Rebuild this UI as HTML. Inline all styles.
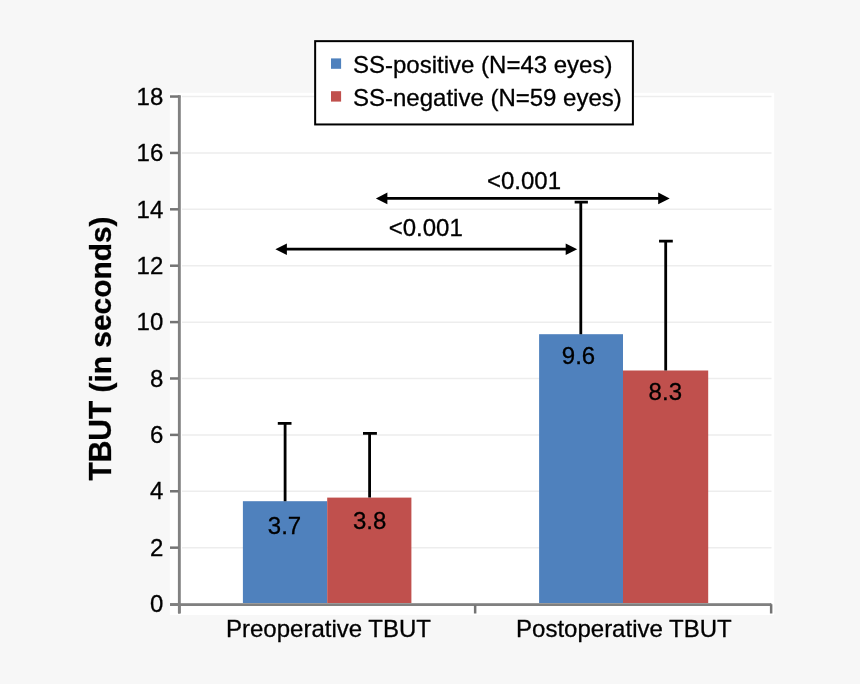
<!DOCTYPE html>
<html lang="en"><head><meta charset="utf-8"><title>TBUT chart</title>
<style>
html,body{margin:0;padding:0;background:#f7f7f7;}
body{width:860px;height:684px;overflow:hidden;}
svg{display:block;font-family:"Liberation Sans",sans-serif;font-size:24px;fill:#000;}
text{stroke:#000;stroke-width:0.3px;}
</style></head><body>
<svg width="860" height="684" viewBox="0 0 860 684">
<rect x="0" y="0" width="860" height="684" fill="#f7f7f7"/>
<rect x="169.8" y="92.8" width="604.4" height="522.1" fill="#fff"/>
<line x1="182" x2="771.5" y1="547.71" y2="547.71" stroke="#ededed" stroke-width="1.5"/>
<line x1="182" x2="771.5" y1="491.32" y2="491.32" stroke="#ededed" stroke-width="1.5"/>
<line x1="182" x2="771.5" y1="434.93" y2="434.93" stroke="#ededed" stroke-width="1.5"/>
<line x1="182" x2="771.5" y1="378.54" y2="378.54" stroke="#ededed" stroke-width="1.5"/>
<line x1="182" x2="771.5" y1="322.15" y2="322.15" stroke="#ededed" stroke-width="1.5"/>
<line x1="182" x2="771.5" y1="265.76" y2="265.76" stroke="#ededed" stroke-width="1.5"/>
<line x1="182" x2="771.5" y1="209.37" y2="209.37" stroke="#ededed" stroke-width="1.5"/>
<line x1="182" x2="771.5" y1="152.98" y2="152.98" stroke="#ededed" stroke-width="1.5"/>
<line x1="182" x2="771.5" y1="96.59" y2="96.59" stroke="#ededed" stroke-width="1.5"/>
<rect x="242.9" y="501.2" width="84.3" height="103.1" fill="#4f81bd"/>
<rect x="327.2" y="497.6" width="84.2" height="106.7" fill="#c0504d"/>
<rect x="539.1" y="334.2" width="83.9" height="270.1" fill="#4f81bd"/>
<rect x="623" y="370.5" width="85.2" height="233.8" fill="#c0504d"/>
<path d="M285.1 501.2V423.4M277.8 423.4H291.5" stroke="#000" stroke-width="2.8" fill="none"/>
<path d="M369.6 497.6V433.3M363.0 433.3H376.9" stroke="#000" stroke-width="2.8" fill="none"/>
<path d="M580.8 334.2V202.1M574.65 202.1H587.9" stroke="#000" stroke-width="2.8" fill="none"/>
<path d="M665.7 370.5V241.2M659.05 241.2H672.8" stroke="#000" stroke-width="2.8" fill="none"/>
<g stroke="#868686" stroke-width="3" fill="none">
<path d="M179.45 95.2V613.4"/>
<path d="M170 604.5H771.4"/>
<path d="M180.45 97.6V603" stroke="#9e9e9e" stroke-width="1"/>
<path d="M181 603.5H770" stroke="#9a9a9a" stroke-width="1"/>
<path d="M170 605H771.4" stroke="#808080" stroke-width="2"/>
<path d="M178.95 95.2V613.4" stroke="#828282" stroke-width="2"/>
</g>
<g stroke="#747474" stroke-width="2.5" fill="none">
<path d="M475.15 605V613.4M771.15 604.3V613.4"/>
<path d="M170 547.66H178.5"/>
<path d="M170 491.27H178.5"/>
<path d="M170 434.88H178.5"/>
<path d="M170 378.49H178.5"/>
<path d="M170 322.1H178.5"/>
<path d="M170 265.71H178.5"/>
<path d="M170 209.32H178.5"/>
<path d="M170 152.93H178.5"/>
<path d="M170 96.54H178.5"/>
</g>
<g text-anchor="end">
<text x="163.3" y="612.25">0</text>
<text x="163.3" y="555.86">2</text>
<text x="163.3" y="499.47">4</text>
<text x="163.3" y="443.08">6</text>
<text x="163.3" y="386.69">8</text>
<text x="163.3" y="330.3">10</text>
<text x="163.3" y="273.91">12</text>
<text x="163.3" y="217.52">14</text>
<text x="163.3" y="161.13">16</text>
<text x="163.3" y="104.74">18</text>
</g>
<text transform="translate(111.3 348.5) rotate(-90)" text-anchor="middle" font-size="29.9" font-weight="bold"><tspan font-size="30.8" textLength="79.7" lengthAdjust="spacingAndGlyphs">TBUT</tspan> (in seconds)</text>
<text x="328.5" y="636.6" text-anchor="middle">Preoperative TBUT</text>
<text x="623.9" y="636.7" text-anchor="middle">Postoperative TBUT</text>
<text x="284.5" y="534.3" text-anchor="middle">3.7</text>
<text x="369.7" y="528.7" text-anchor="middle">3.8</text>
<text x="578.5" y="363.5" text-anchor="middle">9.6</text>
<text x="665.3" y="399.6" text-anchor="middle">8.3</text>
<path d="M385.9 198.4H659.7" stroke="#000" stroke-width="2.8" fill="none"/>
<path d="M375.9 198.4L387.4 192.6V204.20000000000002Z"/>
<path d="M669.7 198.4L658.2 192.6V204.20000000000002Z"/>
<path d="M285.4 249.2H567.2" stroke="#000" stroke-width="2.8" fill="none"/>
<path d="M275.4 249.2L286.9 243.39999999999998V255.0Z"/>
<path d="M577.2 249.2L565.7 243.39999999999998V255.0Z"/>
<text x="524" y="188.5" text-anchor="middle">&lt;0.001</text>
<text x="425.7" y="236.4" text-anchor="middle">&lt;0.001</text>
<rect x="315.15" y="41.15" width="317.75" height="83.3" fill="#fff" stroke="#000" stroke-width="2"/>
<rect x="331" y="58.4" width="10.1" height="10.4" fill="#4f81bd"/>
<rect x="331" y="91.2" width="10.1" height="10.4" fill="#c0504d"/>
<text x="353" y="72.8">SS-positive (N=43 eyes)</text>
<text x="353" y="105.6">SS-negative (N=59 eyes)</text>
</svg>
</body></html>
